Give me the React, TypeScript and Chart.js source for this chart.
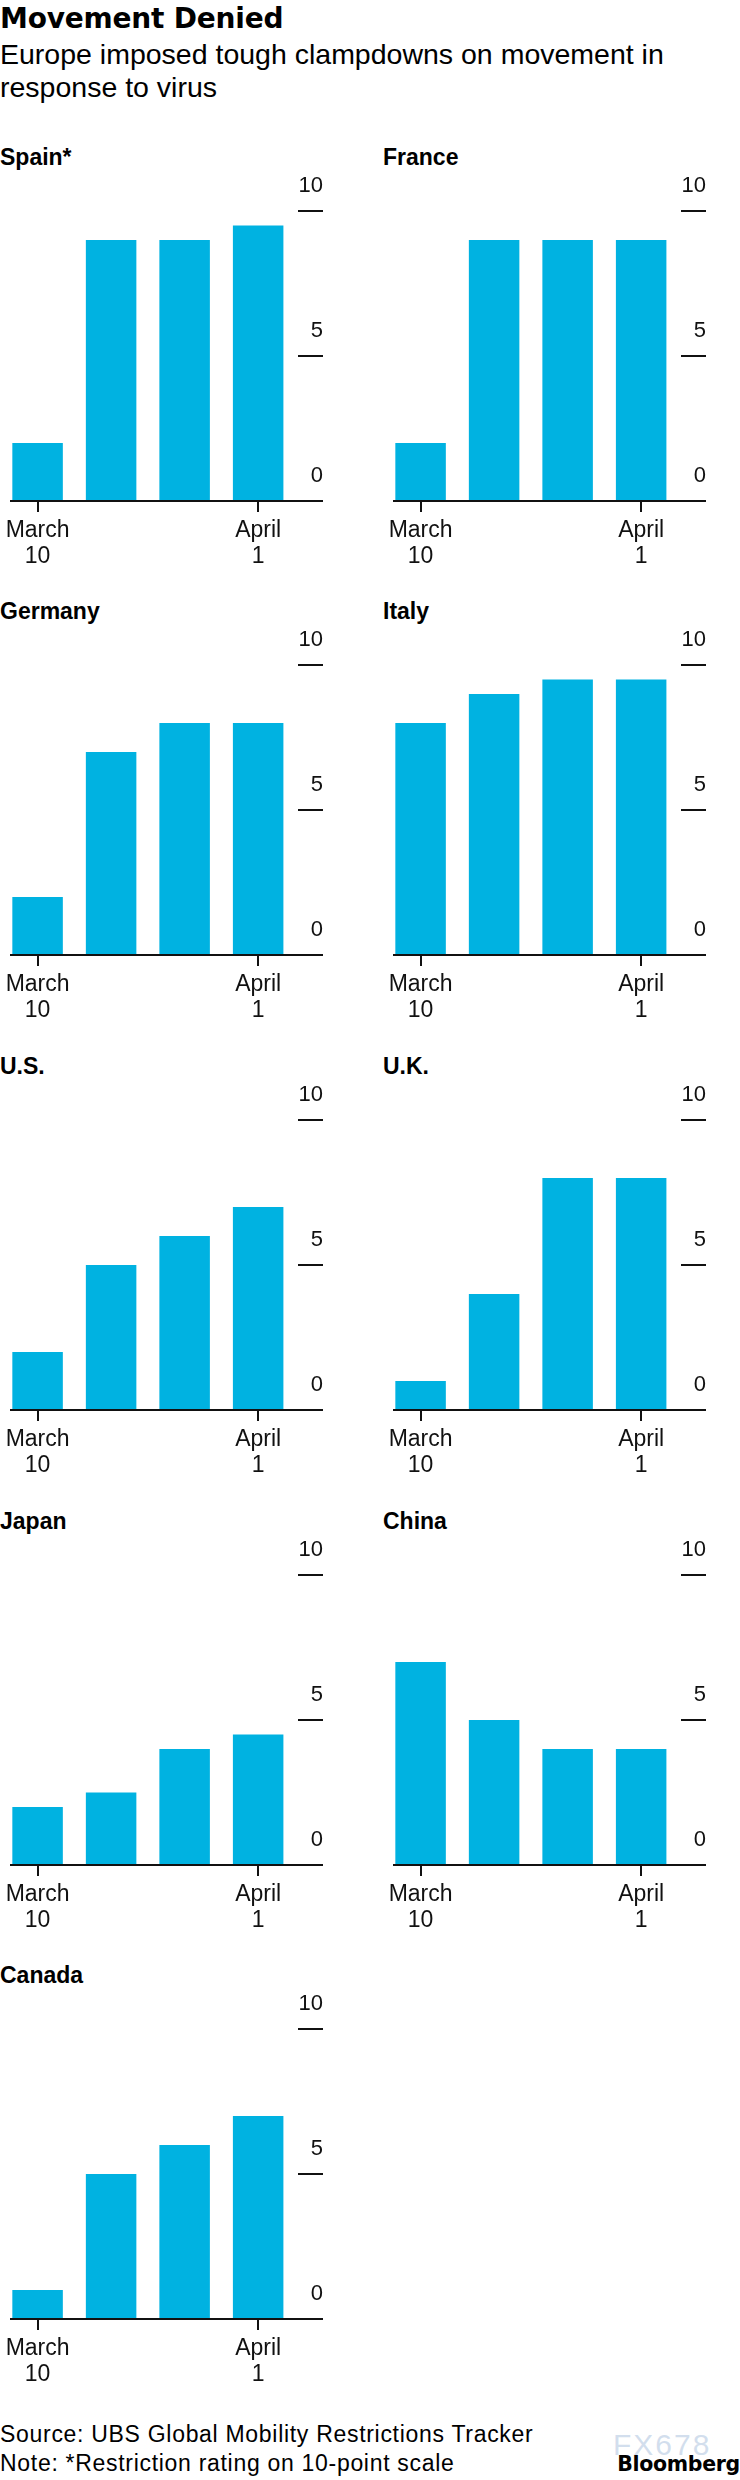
import React, { useEffect, useRef } from 'react';
import { Chart, registerables } from 'chart.js';

Chart.register(...registerables);

// ---- data ----
const CATEGORIES = ['March 10', 'March 17', 'March 24', 'April 1'];
const LABELLED_INDEXES = [0, 3];
const Y_TICKS = [0, 5, 10];

const SPAIN = [2, 9, 9, 9.5];
const FRANCE = [2, 9, 9, 9];
const GERMANY = [2, 7, 8, 8];
const ITALY = [8, 9, 9.5, 9.5];
const US = [2, 5, 6, 7];
const UK = [1, 4, 8, 8];
const JAPAN = [2, 2.5, 4, 4.5];
const CHINA = [7, 5, 4, 4];
const CANADA = [1, 5, 6, 7];

const PANELS: [string, number[]][] = [
  ['Spain*', SPAIN],
  ['France', FRANCE],
  ['Germany', GERMANY],
  ['Italy', ITALY],
  ['U.S.', US],
  ['U.K.', UK],
  ['Japan', JAPAN],
  ['China', CHINA],
  ['Canada', CANADA],
];

// ---- style ----
const FONT = '"Liberation Sans", Arial, Helvetica, sans-serif';
const BAR = 'rgb(0,178,225)';
const INK = '#111111';
const X_MIN = -0.355;
const X_MAX = 3.542;
const CANVAS_W = 330;
const CANVAS_H = 425;
const ROW_BASE0 = 500.7;
const ROW_PITCH = 454.65;
const COL_X = [0, 383];

function Panel({ title, values, left, base }: { title: string; values: number[]; left: number; base: number }) {
  const ref = useRef<HTMLCanvasElement>(null);
  useEffect(() => {
    const chart = new Chart(ref.current as HTMLCanvasElement, {
      type: 'bar',
      data: {
        datasets: [
          {
            data: values.map((v, i) => ({ x: i, y: v })),
            backgroundColor: BAR,
            borderWidth: 0,
            barPercentage: 0.687,
            categoryPercentage: 1,
          } as any,
        ],
      },
      options: {
        responsive: false,
        animation: false,
        devicePixelRatio: 1,
        events: [],
        layout: { autoPadding: false, padding: { top: 45, left: 7, right: 7, bottom: 10 } },
        plugins: { legend: { display: false }, tooltip: { enabled: false }, title: { display: false } },
        scales: {
          x: {
            type: 'linear',
            position: 'bottom',
            min: X_MIN,
            max: X_MAX,
            offset: false,
            afterBuildTicks: (s: any) => {
              s.ticks = LABELLED_INDEXES.map((v) => ({ value: v }));
            },
            afterFit: (s: any) => {
              s.height = 80;
            },
            grid: { offset: false, drawOnChartArea: false, drawTicks: true, tickLength: 11, color: INK, lineWidth: 2 },
            border: { display: true, color: INK, width: 2 },
            ticks: {
              autoSkip: false,
              maxRotation: 0,
              padding: 5,
              color: INK,
              font: { family: FONT, size: 23, lineHeight: 1.16 },
              callback: (v: any) => CATEGORIES[Number(v)].split(' '),
            },
          },
          y: {
            type: 'linear',
            position: 'right',
            min: 0,
            max: 10,
            afterBuildTicks: (s: any) => {
              s.ticks = Y_TICKS.map((v) => ({ value: v }));
            },
            afterFit: (s: any) => {
              s.width = 25;
            },
            grid: { drawOnChartArea: false, drawTicks: true, tickLength: 25, color: INK, lineWidth: 2 },
            border: { display: false },
            ticks: {
              crossAlign: 'far',
              padding: 0,
              labelOffset: -25,
              color: INK,
              font: { family: FONT, size: 22 },
            },
          },
        } as any,
      },
    });
    return () => chart.destroy();
  }, [values]);

  return (
    <>
      <div
        style={{
          position: 'absolute',
          left: left,
          top: base - 335.5 - 19.5,
          font: `bold 23px/1 ${FONT}`,
          color: '#000',
          whiteSpace: 'nowrap',
        }}
      >
        {title}
      </div>
      <canvas
        ref={ref}
        width={CANVAS_W}
        height={CANVAS_H}
        style={{ position: 'absolute', left: left, top: base - 335, width: CANVAS_W, height: CANVAS_H }}
      />
    </>
  );
}

export default function App() {
  return (
    <div
      style={{
        position: 'absolute',
        left: 0,
        top: 0,
        width: 740,
        height: 2480,
        overflow: 'hidden',
        background: '#fff',
        fontFamily: FONT,
        color: '#000',
      }}
    >
      <div
        style={{
          position: 'absolute',
          left: 0,
          top: 4.6,
          font: `bold 28px/1 "DejaVu Sans", ${FONT}`,
          letterSpacing: '-0.2px',
          whiteSpace: 'nowrap',
        }}
      >
        Movement Denied
      </div>
      <div
        style={{
          position: 'absolute',
          left: 0,
          top: 38.2,
          font: `28.5px/32.4px ${FONT}`,
          whiteSpace: 'nowrap',
        }}
      >
        Europe imposed tough clampdowns on movement in
        <br />
        response to virus
      </div>

      {PANELS.map(([title, values], i) => (
        <Panel
          key={title}
          title={title}
          values={values}
          left={COL_X[i % 2]}
          base={ROW_BASE0 + ROW_PITCH * Math.floor(i / 2)}
        />
      ))}

      <div
        style={{
          position: 'absolute',
          left: 0,
          top: 2420.2,
          font: `23px/29px ${FONT}`,
          letterSpacing: '0.7px',
          whiteSpace: 'nowrap',
        }}
      >
        Source: UBS Global Mobility Restrictions Tracker
        <br />
        Note: *Restriction rating on 10-point scale
      </div>
      <div
        style={{
          position: 'absolute',
          left: 613,
          top: 2429.6,
          font: `30px/1 ${FONT}`,
          letterSpacing: '2px',
          color: 'rgba(196,212,232,0.75)',
          whiteSpace: 'nowrap',
        }}
      >
        FX678
      </div>
      <div
        style={{
          position: 'absolute',
          right: 0,
          top: 2454.4,
          font: `bold 20.5px/1 "DejaVu Sans", ${FONT}`,
          letterSpacing: '-0.3px',
          whiteSpace: 'nowrap',
        }}
      >
        Bloomberg
      </div>
    </div>
  );
}
